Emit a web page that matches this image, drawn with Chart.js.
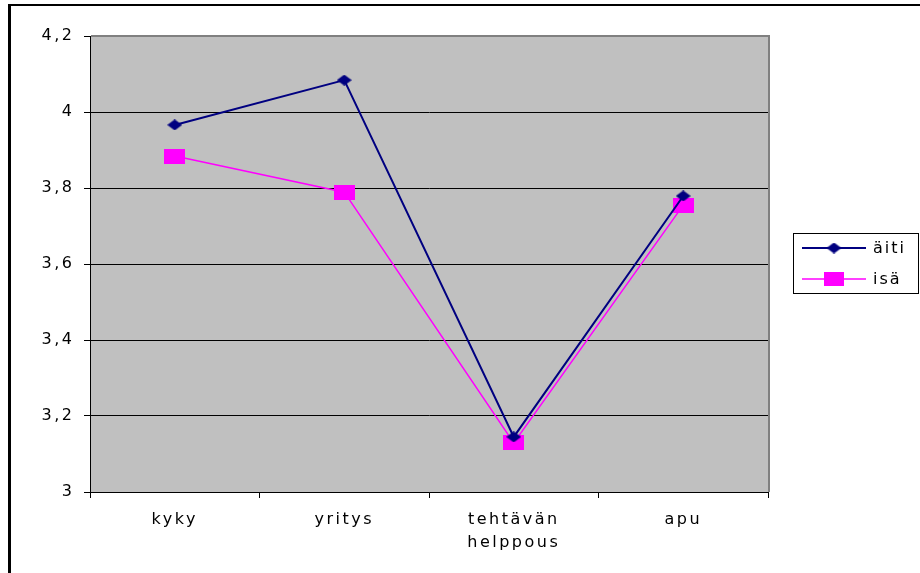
<!DOCTYPE html>
<html>
<head>
<meta charset="utf-8">
<script src="https://cdn.jsdelivr.net/npm/chart.js@4/dist/chart.umd.min.js"></script>
<style>html,body{margin:0;padding:0;background:#fff}</style>
</head>
<body>
<canvas id="chart" width="920" height="573"></canvas>
<script>
var categories = ['kyky', 'yritys', ['tehtävän', 'helppous'], 'apu'];
var aitiValues = [3.966, 4.084, 3.145, 3.779];
var isaValues = [3.884, 3.789, 3.129, 3.755];
var yTicks = [3, 3.2, 3.4, 3.6, 3.8, 4, 4.2];

function makeMarker(w, h, color, diamond) {
    var c = document.createElement('canvas');
    c.width = w; c.height = h;
    var g = c.getContext('2d');
    g.fillStyle = color;
    if (diamond) {
        g.beginPath();
        g.moveTo(w / 2, 0); g.lineTo(w, h / 2); g.lineTo(w / 2, h); g.lineTo(0, h / 2);
        g.closePath(); g.fill();
    } else {
        g.fillRect(0, 0, w, h);
    }
    return c;
}
var diamond = makeMarker(15, 11, '#000080', true);
var square = makeMarker(21, 15, '#FF00FF', false);

// the original text is stretched sideways
var spacing = {
    id: 'spacing',
    beforeUpdate: function (chart) { chart.ctx.letterSpacing = '2.5px'; },
    beforeDraw: function (chart) { chart.ctx.letterSpacing = '2.5px'; }
};

var frame = {
    id: 'frame',
    beforeDraw: function (chart) {
        var ctx = chart.ctx, a = chart.chartArea;
        ctx.save();
        ctx.fillStyle = '#fff';
        ctx.fillRect(0, 0, chart.width, chart.height);
        ctx.fillStyle = '#C0C0C0';
        ctx.fillRect(a.left, a.top, a.right - a.left, a.bottom - a.top);
        ctx.fillStyle = '#000';
        ctx.fillRect(8, 4, 3, chart.height - 4);
        ctx.fillRect(8, 4, chart.width - 8, 2);
        ctx.restore();
    },
    afterDatasetsDraw: function (chart) {
        var ctx = chart.ctx, a = chart.chartArea;
        ctx.save();
        ctx.fillStyle = '#808080';
        ctx.fillRect(a.left + 1, a.top - 1, a.right - a.left, 2);
        ctx.fillRect(a.right, a.top - 1, 2, a.bottom - a.top + 1);
        ctx.restore();
    },
    afterDraw: function (chart) {
        var ctx = chart.ctx;
        ctx.save();
        ctx.fillStyle = '#fff';
        ctx.fillRect(793.5, 233.5, 125, 60);
        ctx.strokeStyle = '#000';
        ctx.lineWidth = 1;
        ctx.strokeRect(793.5, 233.5, 125, 60);
        ctx.font = '16px "DejaVu Sans"';
        ctx.textBaseline = 'middle';
        ctx.letterSpacing = '2px';
        var marks = [diamond, square];
        chart.data.datasets.forEach(function (ds, i) {
            var y = 248 + i * 31;
            ctx.strokeStyle = ds.borderColor;
            ctx.lineWidth = ds.borderWidth;
            ctx.beginPath(); ctx.moveTo(802, y); ctx.lineTo(866, y); ctx.stroke();
            var m = marks[i];
            var mw = i ? 20 : m.width, mh = i ? 14 : m.height;
            ctx.drawImage(m, 834 - mw / 2, y - mh / 2, mw, mh);
            ctx.fillStyle = '#000';
            ctx.fillText(ds.label, 873, y + 1);
        });
        ctx.restore();
    }
};

window.onload = function () {
    var ctx = document.getElementById('chart');
    new Chart(ctx, {
        type: 'line',
        data: {
            labels: categories,
            datasets: [
                {
                    label: 'äiti',
                    data: aitiValues,
                    borderColor: '#000080',
                    backgroundColor: '#000080',
                    borderWidth: 2,
                    pointStyle: diamond,
                    tension: 0
                },
                {
                    label: 'isä',
                    data: isaValues,
                    borderColor: '#FF00FF',
                    backgroundColor: '#FF00FF',
                    borderWidth: 1.5,
                    pointStyle: square,
                    tension: 0
                }
            ]
        },
        options: {
            responsive: false,
            animation: false,
            layout: { padding: { left: 0, top: 36, right: 152, bottom: 0 } },
            plugins: { legend: { display: false }, tooltip: { enabled: false } },
            scales: {
                x: {
                    offset: true,
                    afterFit: function (s) { s.height = 81; },
                    grid: { offset: true, drawOnChartArea: false, tickLength: 6, color: '#000' },
                    border: { color: '#000', width: 1 },
                    ticks: {
                        color: '#000', padding: 10, maxRotation: 0,
                        font: { family: '"DejaVu Sans"', size: 16, lineHeight: '23px' }
                    }
                },
                y: {
                    min: 3,
                    max: 4.2,
                    afterFit: function (s) { s.width = 90; },
                    afterBuildTicks: function (s) {
                        s.ticks = yTicks.map(function (v) { return { value: v }; });
                    },
                    grid: {
                        color: function (c) { return c.tick && c.tick.value === 4.2 ? '#808080' : '#000'; },
                        tickColor: '#000',
                        tickLength: 6
                    },
                    border: { color: '#000', width: 1 },
                    ticks: {
                        color: '#000', padding: 9.5,
                        font: { family: '"DejaVu Sans"', size: 16 },
                        callback: function (v) { return String(Math.round(v * 10) / 10).replace('.', ','); }
                    }
                }
            }
        },
        plugins: [spacing, frame]
    });
};
</script>
</body>
</html>
